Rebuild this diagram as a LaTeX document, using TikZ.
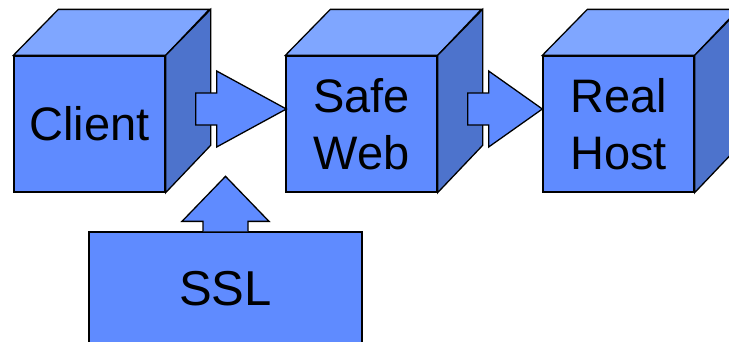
\documentclass[tikz,border=0pt]{standalone}
\usepackage{fontspec}
\setmainfont{Liberation Sans}
\usetikzlibrary{calc}
\definecolor{frontc}{RGB}{95,139,255}
\definecolor{topc}{RGB}{127,166,255}
\definecolor{sidec}{RGB}{77,115,204}
\begin{document}
\begin{tikzpicture}[x=1pt,y=-1pt,line join=miter,
  face/.style={draw=black,fill=frontc,line width=1.3pt,minimum width=151pt,minimum height=136pt,inner sep=0pt,align=center,font=\fontsize{47}{57}\selectfont},
  topface/.style={draw=black,fill=topc,line width=1.3pt},
  sideface/.style={draw=black,fill=sidec,line width=1.3pt},
  blockarrow/.style={draw=black,fill=frontc,line width=1.3pt}]
\useasboundingbox (0,0) rectangle (729,341);
\clip (0,0) rectangle (729,341);
\newcommand\cubeback[1]{%
  \path[topface] (#1.north west) -- ++(45,-46) -- ++(151,0) -- (#1.north east) -- cycle;
  \path[sideface] (#1.north east) -- ++(45,-46) -- ++(0,136) -- (#1.south east) -- cycle;}
% cubes
\node[face] (client) at (89.5,124) {Client};
\cubeback{client}
\node[face] (safe) at (361.5,124) {Safe\\Web};
\cubeback{safe}
\node[face] (real) at (618.5,124) {Real\\Host};
\cubeback{real}
% SSL box
\node[face,minimum width=273pt,minimum height=114pt,font=\fontsize{49}{57}\selectfont] (ssl) at (225.5,289) {SSL};
% block arrows
\path[blockarrow] ($(client.east)+(30,-31)$) coordinate (a1) -- ++(21,0) -- ++(0,-22) -- ($(safe.west)+(1,-15)$) -- ($(a1)+(21,54)$) -- ++(0,-22) -- ++(-21,0) -- cycle;
\path[blockarrow] ($(safe.east)+(30,-31)$) coordinate (a2) -- ++(21,0) -- ++(0,-22) -- ($(real.west)+(0,-15)$) -- ($(a2)+(21,54)$) -- ++(0,-22) -- ++(-21,0) -- cycle;
\path[blockarrow] ($(ssl.north)+(-22.5,0)$) coordinate (a3) -- ++(0,-10) -- ++(-21,0) -- ($(ssl.north)+(0,-55)$) -- ($(a3)+(66,-10)$) -- ++(-21,0) -- ++(0,10);
\end{tikzpicture}
\end{document}
